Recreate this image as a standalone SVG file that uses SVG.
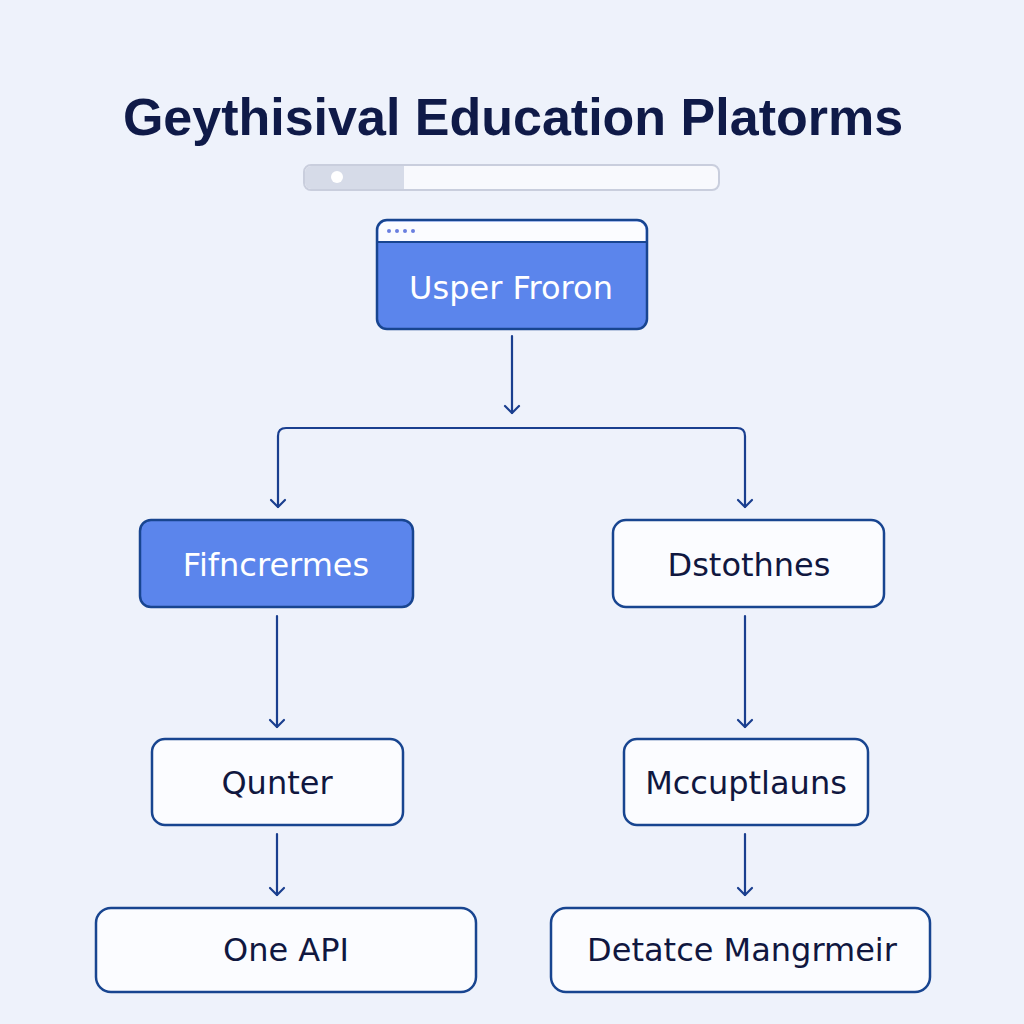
<svg xmlns="http://www.w3.org/2000/svg" width="1024" height="1024" viewBox="0 0 1024 1024">
<defs>
<marker id="arr" viewBox="0 0 20 20" refX="16" refY="10" markerWidth="20" markerHeight="20" markerUnits="userSpaceOnUse" orient="auto">
<path d="M9 3 L16 10 L9 17" fill="none" stroke="#1a3f8f" stroke-width="2.2" stroke-linecap="round" stroke-linejoin="round"/>
</marker>
<style>
.node{stroke:#184590;stroke-width:2.5}
.blue{fill:#5b85ec}
.white{fill:#fbfcff}
.lbl{font-family:"DejaVu Sans","Liberation Sans",sans-serif;font-size:32px;text-anchor:middle;dominant-baseline:central}
.lw{fill:#ffffff}
.ld{fill:#10173f}
.conn{fill:none;stroke:#1a3f8f;stroke-width:2.2;stroke-linecap:round;stroke-linejoin:round}
</style>
</defs>
<rect width="1024" height="1024" fill="#eef2fb"/>
<text x="513" y="135" font-family="Liberation Sans,Arial,sans-serif" font-weight="bold" font-size="52" text-anchor="middle" fill="#0f1a48">Geythisival Education Platorms</text>
<g id="progress">
<rect x="304" y="165" width="415" height="25" rx="7" fill="#f8f9fd" stroke="#c9cedd" stroke-width="2"/>
<path d="M311 166 H404 V189 H311 A6 6 0 0 1 305 183 V172 A6 6 0 0 1 311 166 Z" fill="#d6dbe8"/>
<circle cx="337" cy="177" r="6" fill="#ffffff"/>
</g>
<g id="connectors">
<path class="conn" d="M512 336 V413" marker-end="url(#arr)"/>
<path class="conn" d="M512 428 H286 Q278 428 278 436 V507" marker-end="url(#arr)"/>
<path class="conn" d="M512 428 H737 Q745 428 745 436 V507" marker-end="url(#arr)"/>
<path class="conn" d="M277 616 V727" marker-end="url(#arr)"/>
<path class="conn" d="M745 616 V727" marker-end="url(#arr)"/>
<path class="conn" d="M277 834 V895" marker-end="url(#arr)"/>
<path class="conn" d="M745 834 V895" marker-end="url(#arr)"/>
</g>
<g id="node-usper-froron">
<rect class="node blue" x="377" y="220" width="270" height="109" rx="10"/>
<path d="M387 221.5 H637 A8.5 8.5 0 0 1 645.5 230 V242 H378.5 V230 A8.5 8.5 0 0 1 387 221.5 Z" fill="#fbfcff"/>
<line x1="378" y1="242" x2="646" y2="242" stroke="#184590" stroke-width="2"/>
<circle cx="389" cy="231" r="2" fill="#6a7fe0"/>
<circle cx="397" cy="231" r="2" fill="#6a7fe0"/>
<circle cx="405" cy="231" r="2" fill="#6a7fe0"/>
<circle cx="413" cy="231" r="2" fill="#6a7fe0"/>
<text class="lbl lw" x="511" y="288" font-size="35">Usper Froron</text>
</g>
<g id="node-fifncrermes">
<rect class="node blue" x="140" y="520" width="273" height="87" rx="11"/>
<text class="lbl lw" x="276" y="565">Fifncrermes</text>
</g>
<g id="node-dstothnes">
<rect class="node white" x="613" y="520" width="271" height="87" rx="13"/>
<text class="lbl ld" x="749" y="565" font-size="29">Dstothnes</text>
</g>
<g id="node-qunter">
<rect class="node white" x="152" y="739" width="251" height="86" rx="13"/>
<text class="lbl ld" x="277" y="783">Qunter</text>
</g>
<g id="node-mccuptlauns">
<rect class="node white" x="624" y="739" width="244" height="86" rx="13"/>
<text class="lbl ld" x="746" y="783" font-size="30">Mccuptlauns</text>
</g>
<g id="node-one-api">
<rect class="node white" x="96" y="908" width="380" height="84" rx="15"/>
<text class="lbl ld" x="286" y="950">One API</text>
</g>
<g id="node-detatce-mangrmeir">
<rect class="node white" x="551" y="908" width="379" height="84" rx="15"/>
<text class="lbl ld" x="742" y="950">Detatce Mangrmeir</text>
</g>
</svg>
